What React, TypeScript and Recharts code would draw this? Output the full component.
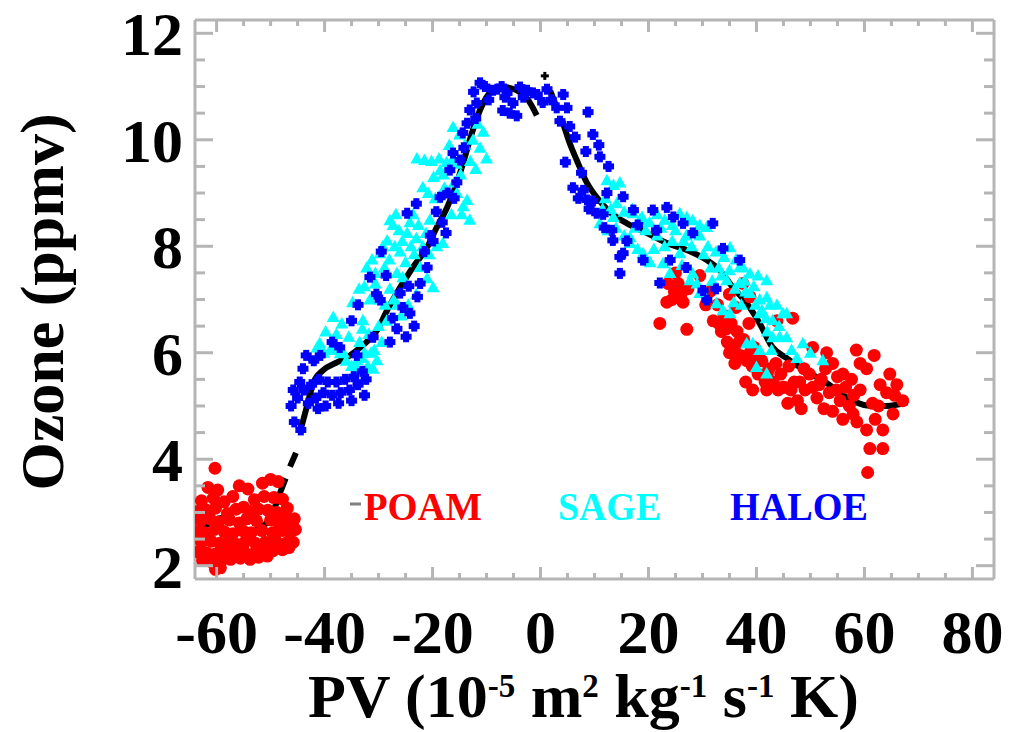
import React from "react";
import { ComposedChart, Scatter, Line, XAxis, YAxis, ReferenceLine } from "recharts";

// ozone vs PV
const poam: [number, number][] = [
  // southern (left) cluster
  [-61.6, 3.47], [-59.8, 3.42], [-55.8, 3.5], [-54.2, 3.44], [-51.5, 3.55], [-50.0, 3.62], [-48.6, 3.58],
  [-62.8, 3.22], [-60.6, 3.27], [-58.6, 3.2], [-57.0, 3.3], [-53.0, 3.24], [-51.2, 3.3], [-49.4, 3.28], [-47.8, 3.25], [-46.9, 3.08],
  [-63.5, 3.02], [-62.0, 3.05], [-60.2, 3.08], [-58.0, 2.98], [-56.4, 3.06], [-55.0, 3.1], [-53.8, 3.02], [-52.2, 3.06], [-50.5, 3.04], [-48.8, 3.0], [-47.3, 2.98],
  [-63.0, 2.84], [-61.2, 2.88], [-59.6, 2.82], [-57.6, 2.86], [-55.8, 2.8], [-54.4, 2.88], [-52.6, 2.84], [-50.0, 2.86], [-48.5, 2.8], [-46.8, 2.84], [-45.6, 2.88],
  [-63.6, 2.64], [-62.2, 2.62], [-60.4, 2.68], [-58.6, 2.64], [-57.0, 2.6], [-55.2, 2.66], [-53.6, 2.62], [-51.6, 2.66], [-49.6, 2.62], [-47.8, 2.66], [-46.4, 2.62], [-45.4, 2.68],
  [-62.8, 2.44], [-61.0, 2.46], [-59.4, 2.42], [-57.8, 2.44], [-56.2, 2.4], [-54.6, 2.46], [-52.8, 2.42], [-51.0, 2.44], [-49.0, 2.46], [-47.2, 2.42], [-45.8, 2.44],
  [-63.4, 2.26], [-61.8, 2.24], [-60.2, 2.22], [-58.4, 2.26], [-56.8, 2.24], [-55.0, 2.28], [-53.2, 2.22], [-51.4, 2.26], [-49.6, 2.28], [-47.8, 2.3], [-46.6, 2.34],
  [-62.6, 2.1], [-60.8, 2.06], [-59.2, 2.08], [-57.4, 2.12], [-55.6, 2.14], [-53.8, 2.12], [-52.2, 2.16], [-50.6, 2.18],
  [-60.2, 1.93], [-59.3, 1.96], [-60.3, 3.83],
  // northern (right) cluster
  [22.1, 6.55], [27.1, 6.44], [23.6, 7.3], [24.4, 7.0], [25.5, 7.3], [26.4, 6.95], [27.3, 7.2], [23.4, 6.95], [25.0, 7.5],
  [29.5, 7.45], [31.4, 7.15], [30.6, 6.9], [32.0, 6.6], [32.8, 6.9], [33.5, 6.4], [34.0, 6.7], [34.6, 6.2], [35.3, 6.55],
  [35.9, 6.05], [36.4, 6.4], [37.0, 5.95], [37.6, 6.25], [38.2, 5.85], [38.6, 6.55], [39.2, 5.75], [39.6, 6.1], [40.3, 5.6],
  [41.0, 5.85], [41.6, 5.45], [42.3, 5.7], [43.1, 5.45], [43.8, 6.6], [44.5, 5.6], [45.2, 5.35], [46.0, 5.75], [46.7, 6.65],
  [47.0, 5.45], [47.6, 5.1], [48.3, 4.95], [49.0, 5.3], [49.8, 5.6], [50.4, 5.35], [50.4, 6.1], [51.2, 5.15], [52.0, 5.5],
  [53.0, 6.0], [53.5, 5.25], [54.1, 5.8], [54.1, 4.9], [55.0, 5.55], [55.5, 5.1], [56.5, 5.35], [57.2, 5.0], [57.9, 4.85],
  [58.6, 4.7], [58.5, 6.05], [59.2, 5.8], [59.2, 5.3], [60.4, 5.7], [60.4, 4.55], [61.0, 4.2], [61.5, 5.05], [61.8, 5.95],
  [62.0, 4.75], [62.9, 5.4], [63.4, 4.55], [63.4, 4.2], [64.1, 5.25], [64.7, 5.6], [65.3, 4.85], [66.0, 5.4], [67.1, 5.1],
  [60.6, 3.75], [39.3, 5.3], [41.9, 5.3], [44.9, 5.35], [38.0, 5.45], [36.0, 5.8], [45.8, 5.05], [56.0, 4.75], [52.5, 4.95],
  [35.0, 7.1], [24.8, 7.15], [26.0, 7.1], [33.0, 6.55], [34.4, 6.45], [35.0, 6.0], [36.8, 6.2], [38.8, 6.0], [40.2, 5.95],
  [42.0, 5.6], [43.6, 5.8], [44.0, 5.3], [46.4, 5.3], [48.0, 5.45], [48.8, 5.7], [51.6, 5.4], [52.8, 5.7], [54.8, 5.3],
  [56.0, 5.6], [57.6, 5.5], [58.0, 5.2], [62.6, 5.0], [65.6, 5.2], [37.5, 7.3], [38.8, 7.05], [36.2, 6.85],
];

const sage: [number, number][] = [
  [-41.4, 6.1], [-40.2, 6.0], [-39.0, 6.05], [-40.9, 6.18], [-38.4, 6.67], [-38.4, 6.05], [-37.1, 5.99], [-36.0, 5.85],
  [-35.0, 5.75], [-34.0, 5.7], [-33.0, 5.9], [-32.0, 5.75], [-31.0, 5.7], [-32.9, 6.61], [-31.8, 6.35], [-30.8, 6.05],
  [-30.3, 5.86], [-31.6, 7.0], [-30.6, 7.3], [-29.6, 7.0], [-28.9, 7.6], [-27.9, 7.2], [-29.7, 7.87], [-28.0, 7.75],
  [-26.6, 7.5], [-25.5, 7.42], [-27.9, 8.49], [-26.2, 8.3], [-24.7, 8.25], [-28.4, 8.11], [-24.0, 8.0], [-23.0, 8.15],
  [-21.8, 8.0], [-22.3, 7.61], [-21.0, 7.4], [-19.9, 7.23], [-23.6, 8.6], [-21.8, 9.11], [-22.9, 9.65], [-21.5, 9.62],
  [-20.2, 9.6], [-18.8, 9.65], [-17.4, 9.58], [-16.2, 9.65], [-18.6, 9.43], [-16.2, 10.24], [-15.0, 10.1], [-14.0, 9.9],
  [-12.5, 10.0], [-11.2, 9.85], [-10.0, 9.65], [-13.6, 8.87], [-15.5, 9.0], [-14.3, 8.75], [-13.1, 8.5], [-18.1, 8.06],
  [-27.3, 8.4], [-32.2, 7.6], [-30.6, 7.5], [-34.0, 5.86], [-35.5, 6.3], [-36.5, 6.0], [-33.5, 6.2], [-26.0, 7.9],
  [-25.0, 7.7], [-20.5, 8.5], [-19.5, 8.9], [-17.8, 9.1], [-16.5, 8.6], [-24.5, 6.9], [-23.0, 7.1], [-26.5, 6.9],
  [-28.5, 6.6], [-30.0, 6.5],
  [-39.8, 6.4], [-37.8, 6.35], [-36.8, 6.55], [-34.8, 6.95], [-33.6, 7.2], [-32.6, 7.25], [-31.2, 7.75], [-29.2, 8.0],
  [-27.0, 8.0], [-26.8, 8.6], [-25.6, 8.1], [-24.2, 8.45], [-23.4, 7.85], [-22.6, 8.4], [-21.2, 8.25], [-20.6, 7.85],
  [-19.2, 8.0], [-20.8, 9.0], [-19.8, 9.3], [-18.0, 9.35], [-16.9, 9.9], [-15.6, 9.55], [-14.8, 9.35], [-13.0, 9.6],
  [-12.0, 9.45], [-11.6, 10.3], [-10.6, 10.15], [-14.6, 8.6], [-16.0, 9.2], [-27.2, 7.0], [-25.8, 6.7], [-28.8, 6.9],
  [-31.4, 6.0], [-32.6, 6.0], [-29.4, 6.2], [-33.0, 6.45],
  [12.3, 9.24], [13.5, 9.15], [14.7, 9.2], [14.1, 8.81], [15.5, 8.65], [17.0, 8.7], [18.4, 8.5], [11.0, 8.43],
  [12.5, 8.3], [14.0, 8.35], [15.5, 8.2], [16.6, 8.17], [17.1, 8.62], [18.8, 8.55], [20.2, 8.45], [21.6, 8.6],
  [23.0, 8.5], [24.4, 8.4], [25.8, 8.62], [27.1, 8.55], [28.2, 8.49], [29.5, 8.4], [30.8, 8.36], [21.6, 8.2],
  [23.0, 8.0], [24.4, 8.1], [25.8, 7.87], [16.6, 8.06], [18.0, 7.95], [19.0, 7.87], [20.3, 7.7], [22.7, 7.68],
  [24.0, 7.5], [29.5, 8.2], [31.0, 8.0], [32.5, 7.9], [34.0, 7.8], [35.1, 7.98], [36.2, 7.75], [36.9, 7.61],
  [38.8, 7.49], [40.3, 7.45], [41.9, 7.36], [36.9, 7.31], [38.0, 7.15], [38.8, 7.12], [41.9, 7.04], [40.6, 6.74],
  [41.8, 6.65], [43.0, 6.61], [45.6, 6.74], [44.9, 6.74], [43.0, 6.29], [44.3, 6.3], [45.6, 6.29], [28.2, 7.49],
  [29.0, 7.3], [29.5, 7.12], [32.6, 6.93], [33.8, 6.8], [35.1, 6.74], [39.3, 6.18], [40.6, 6.05], [38.2, 6.18],
  [48.6, 6.18], [50.0, 6.0], [52.3, 5.86], [40.0, 5.73], [41.9, 5.61], [34.5, 7.36], [36.0, 7.2], [27.7, 7.36],
  [30.1, 7.12], [40.6, 7.0], [42.5, 6.9], [12.0, 8.9], [13.0, 8.7], [27.0, 8.2], [33.0, 7.6], [37.5, 7.6],
  [42.0, 6.4], [46.5, 6.05], [47.5, 5.9],
  [19.5, 8.3], [22.3, 8.35], [25.0, 8.3], [26.5, 8.1], [28.0, 8.0], [30.2, 7.85], [31.5, 7.6], [33.5, 7.45],
  [35.0, 7.55], [37.8, 7.35], [39.5, 7.25], [39.8, 6.9], [41.0, 6.8], [43.8, 6.9], [44.2, 6.5], [42.8, 6.05],
  [37.2, 6.9], [35.8, 6.95], [31.8, 7.35], [26.2, 7.65], [21.0, 7.95], [17.5, 8.35], [13.5, 8.55], [11.5, 8.7],
];

const haloe: [number, number][] = [
  [-46.2, 5.0], [-45.6, 4.7], [-45.8, 5.3], [-45.0, 5.15], [-44.4, 4.55], [-44.6, 5.45], [-43.8, 5.3], [-43.0, 5.05],
  [-42.4, 5.4], [-41.6, 5.15], [-41.0, 5.5], [-40.2, 5.25], [-39.4, 5.45], [-38.6, 5.2], [-37.8, 5.45], [-37.0, 5.25],
  [-36.2, 5.5], [-35.4, 5.3], [-34.6, 5.55], [-33.8, 5.4], [-33.0, 5.65], [-32.3, 5.5], [-42.0, 5.85], [-40.8, 5.95],
  [-38.6, 6.2], [-37.2, 6.1], [-35.0, 6.6], [-33.8, 6.9], [-34.0, 5.95], [-31.0, 6.29],
  [-39.8, 5.0], [-37.4, 5.05], [-35.0, 5.1], [-41.2, 4.95], [-32.6, 5.2], [-44.0, 5.7], [-43.4, 5.95],
  [-31.6, 7.42], [-30.4, 7.1], [-29.7, 6.99], [-29.5, 7.9], [-28.6, 7.45], [-27.9, 6.2], [-27.4, 6.65], [-26.6, 6.45],
  [-26.0, 7.12], [-25.5, 6.85], [-24.9, 6.3], [-24.7, 8.62], [-24.4, 7.25], [-24.2, 6.74], [-23.4, 6.5], [-23.0, 8.8],
  [-22.8, 7.05], [-22.3, 7.3], [-21.5, 7.9], [-21.0, 7.6], [-20.4, 8.2], [-19.9, 8.1], [-19.3, 8.65], [-18.6, 8.92],
  [-18.2, 8.45], [-17.5, 8.25],
  [-16.8, 9.43], [-14.9, 9.62], [-13.6, 10.31], [-11.8, 10.69], [-11.2, 11.07], [-8.8, 10.93], [-6.2, 10.88], [-5.1, 10.69],
  [-5.7, 10.5], [-2.5, 10.93], [-1.4, 10.88], [-3.8, 10.99], [-13.1, 10.56], [-14.4, 10.13], [-16.2, 9.75], [-15.5, 9.2],
  [-14.2, 9.85], [-12.4, 10.9], [-10.3, 11.0], [-9.6, 10.75], [-8.0, 10.95], [-7.2, 11.0], [-7.0, 10.55], [-6.6, 10.8],
  [-4.4, 10.45], [-3.2, 10.8], [-0.6, 10.85], [-12.0, 10.4], [-17.2, 9.0], [-16.0, 8.9],
  [1.2, 10.95], [2.0, 10.75], [0.4, 10.7], [3.0, 10.6], [4.2, 10.85], [4.9, 10.6], [8.8, 10.52], [3.6, 10.35], [5.4, 10.25],
  [6.4, 10.05], [4.6, 9.58], [9.7, 10.1], [10.8, 9.9], [8.4, 9.78], [11.0, 9.68], [12.6, 9.5], [7.6, 9.38], [6.0, 9.1],
  [7.0, 8.9], [7.9, 9.05], [8.6, 8.87], [9.7, 8.85], [10.4, 8.62], [11.6, 8.6], [12.3, 9.0], [15.3, 8.93], [13.4, 8.11],
  [16.0, 8.1], [15.3, 7.87], [14.7, 7.49], [19.0, 7.74], [22.1, 7.31], [24.0, 7.74], [26.4, 8.43], [28.2, 8.25],
  [31.9, 8.43], [33.8, 7.96], [36.9, 7.74], [23.4, 8.73], [20.8, 8.68], [17.2, 8.68], [24.6, 8.55], [30.8, 6.99],
  [30.1, 7.17], [14.7, 7.8], [11.8, 8.35], [13.2, 8.3], [9.0, 8.7], [18.0, 8.4], [21.5, 8.3], [27.0, 7.6], [32.5, 7.2],
];

// black fit curve, broken into the pieces that show in the figure
const fitSouth: [number, number][] = [
  [-63.7, 2.55], [-62.0, 2.75], [-60.2, 2.87], [-58.6, 2.9], [-56.8, 2.84], [-55.0, 2.7], [-53.6, 2.65],
  [-52.0, 2.7], [-50.4, 2.85], [-49.2, 3.1], [-48.2, 3.38], [-47.2, 3.64],
];
const fitGap: [number, number][] = [[-46.4, 3.86], [-45.3, 4.12]];
const fitMid: [number, number][] = [
  [-44.6, 4.49], [-43.3, 4.98], [-42.1, 5.43], [-40.3, 5.67], [-37.7, 5.82], [-35.3, 5.95], [-32.9, 6.14],
  [-30.3, 6.42], [-28.4, 6.8], [-26.0, 7.23], [-23.6, 7.61], [-21.0, 7.98], [-19.2, 8.36], [-17.3, 8.73],
  [-15.5, 9.19], [-14.0, 9.68], [-12.7, 10.13], [-11.2, 10.56], [-9.4, 10.88], [-7.0, 10.99], [-4.4, 10.93],
  [-2.5, 10.78], [-0.7, 10.46],
];
const fitPeak: [number, number][] = [[1.8, 10.92], [3.1, 10.58]];
const fitNorth: [number, number][] = [
  [4.0, 10.37], [5.4, 9.94], [6.7, 9.62], [8.6, 9.19], [10.4, 8.92], [12.9, 8.64], [16.0, 8.43], [19.7, 8.25],
  [23.4, 8.06], [27.1, 7.93], [30.8, 7.74], [33.2, 7.55], [35.6, 7.23], [38.2, 6.93], [40.6, 6.55], [43.0, 6.1],
  [45.6, 5.9], [48.0, 5.73], [53.0, 5.43], [56.7, 5.16], [60.4, 5.01], [64.1, 5.0], [67.9, 5.07],
];
const fitMark: [number, number][] = [[0.8, 11.2]];

const xTicks = [-60, -55, -50, -45, -40, -35, -30, -25, -20, -15, -10, -5, 0, 5, 10, 15, 20, 25, 30, 35, 40, 45, 50, 55, 60, 65, 70, 75, 80];
const xLabels = [-60, -40, -20, 0, 20, 40, 60, 80];
const yTicks = [2, 2.5, 3, 3.5, 4, 4.5, 5, 5.5, 6, 6.5, 7, 7.5, 8, 8.5, 9, 9.5, 10, 10.5, 11, 11.5, 12];
const yLabels = [2, 4, 6, 8, 10, 12];

const xy = (a: [number, number][]) => a.map(([x, y]) => ({ x, y }));

const FRAME = "#b5b5b5";
const SERIF = "'Liberation Serif', 'Times New Roman', serif";
// plot box edges (the ticks are mirrored onto the top and right sides)
const PLOT_TOP = 20;
const PLOT_RIGHT = 994;

function bottomTick(p: any) {
  const major = xLabels.includes(p.payload.value);
  const len = major ? 12 : 6;
  return (
    <g>
      <line x1={p.x} x2={p.x} y1={p.y} y2={p.y - len} stroke={FRAME} strokeWidth={3} />
      <line x1={p.x} x2={p.x} y1={PLOT_TOP} y2={PLOT_TOP + len} stroke={FRAME} strokeWidth={3} />
      {major && (
        <text x={p.x} y={p.y + 74} textAnchor="middle" fontFamily={SERIF} fontWeight="bold" fontSize={62} fill="#000">
          {p.payload.value}
        </text>
      )}
    </g>
  );
}

function leftTick(p: any) {
  const major = yLabels.includes(p.payload.value);
  const len = major ? 18 : 10;
  return (
    <g>
      <line x1={p.x} x2={p.x + len} y1={p.y} y2={p.y} stroke={FRAME} strokeWidth={3} />
      <line x1={PLOT_RIGHT} x2={PLOT_RIGHT - len} y1={p.y} y2={p.y} stroke={FRAME} strokeWidth={3} />
      {major && (
        <text x={p.x - 12} y={p.y + 22} textAnchor="end" fontFamily={SERIF} fontWeight="bold" fontSize={62} fill="#000">
          {p.payload.value}
        </text>
      )}
    </g>
  );
}

const redDot = (p: any) => <circle cx={p.cx} cy={p.cy} r={6.5} fill="#ff0000" />;
const cyanDot = (p: any) => (
  <polygon points={`${p.cx},${p.cy - 6.5} ${p.cx + 6.5},${p.cy + 5} ${p.cx - 6.5},${p.cy + 5}`} fill="#00ffff" />
);
const blueDot = (p: any) => (
  <g fill="#0000ff">
    <rect x={p.cx - 5.5} y={p.cy - 3} width={11} height={6} />
    <rect x={p.cx - 3} y={p.cy - 5.5} width={6} height={11} />
  </g>
);
const blackPlus = (p: any) => (
  <g fill="#000">
    <rect x={p.cx - 4} y={p.cy - 1.5} width={8} height={3} />
    <rect x={p.cx - 1.5} y={p.cy - 4} width={3} height={8} />
  </g>
);

const fitLine = (data: [number, number][], key: string) => (
  <Line
    key={key}
    data={xy(data)}
    dataKey="y"
    type="monotone"
    stroke="#000"
    strokeWidth={6}
    dot={false}
    isAnimationActive={false}
  />
);

export default function App() {
  return (
    <div style={{ position: "absolute", left: 0, top: 0, width: 1009, height: 732, background: "#fff" }}>
      <ComposedChart width={1009} height={732} margin={{ top: PLOT_TOP, right: 1009 - PLOT_RIGHT, bottom: 93, left: 135 }}>
        <XAxis
          dataKey="x"
          type="number"
          domain={[-64, 84]}
          allowDataOverflow
          ticks={xTicks}
          interval={0}
          height={60}
          tickSize={0}
          tickMargin={0}
          tickLine={false}
          axisLine={{ stroke: FRAME, strokeWidth: 3 }}
          tick={bottomTick}
        />
        <YAxis
          dataKey="y"
          type="number"
          domain={[1.75, 12.25]}
          allowDataOverflow
          ticks={yTicks}
          interval={0}
          width={60}
          tickSize={0}
          tickMargin={0}
          tickLine={false}
          axisLine={{ stroke: FRAME, strokeWidth: 3 }}
          tick={leftTick}
        />
        <ReferenceLine y={12.25} stroke={FRAME} strokeWidth={3} ifOverflow="visible" />
        <ReferenceLine x={84} stroke={FRAME} strokeWidth={3} ifOverflow="visible" />
        <Scatter name="POAM" data={xy(poam)} dataKey="y" shape={redDot} isAnimationActive={false} />
        <Scatter name="SAGE" data={xy(sage)} dataKey="y" shape={cyanDot} isAnimationActive={false} />
        <Scatter name="HALOE" data={xy(haloe)} dataKey="y" shape={blueDot} isAnimationActive={false} />
        {fitLine(fitSouth, "s")}
        {fitLine(fitGap, "g")}
        {fitLine(fitMid, "m")}
        {fitLine(fitPeak, "p")}
        {fitLine(fitNorth, "n")}
        <Scatter name="fit" data={xy(fitMark)} dataKey="y" shape={blackPlus} isAnimationActive={false} />
      </ComposedChart>
      <svg width={1009} height={732} style={{ position: "absolute", left: 0, top: 0, pointerEvents: "none" }}>
        <text
          x={63}
          y={302}
          transform="rotate(-90 63 302)"
          textAnchor="middle"
          fontFamily={SERIF}
          fontWeight="bold"
          fontSize={62}
        >
          Ozone (ppmv)
        </text>
        <text x={308} y={717} fontFamily={SERIF} fontWeight="bold" fontSize={62}>
          PV (10
          <tspan fontSize={33} dy={-20}>-5</tspan>
          <tspan dy={20}> m</tspan>
          <tspan fontSize={33} dy={-20}>2</tspan>
          <tspan dy={20}> kg</tspan>
          <tspan fontSize={33} dy={-20}>-1</tspan>
          <tspan dy={20}> s</tspan>
          <tspan fontSize={33} dy={-20}>-1</tspan>
          <tspan dy={20}> K)</tspan>
        </text>
        <line x1={350} x2={361} y1={504} y2={504} stroke="#808080" strokeWidth={3} />
        <text x={364} y={520} fontFamily={SERIF} fontWeight="bold" fontSize={41} fill="#ff0000" textLength={118} lengthAdjust="spacingAndGlyphs">
          POAM
        </text>
        <text x={558} y={520} fontFamily={SERIF} fontWeight="bold" fontSize={41} fill="#00ffff" textLength={103} lengthAdjust="spacingAndGlyphs">
          SAGE
        </text>
        <text x={730} y={520} fontFamily={SERIF} fontWeight="bold" fontSize={41} fill="#0000ff" textLength={138} lengthAdjust="spacingAndGlyphs">
          HALOE
        </text>
      </svg>
    </div>
  );
}
